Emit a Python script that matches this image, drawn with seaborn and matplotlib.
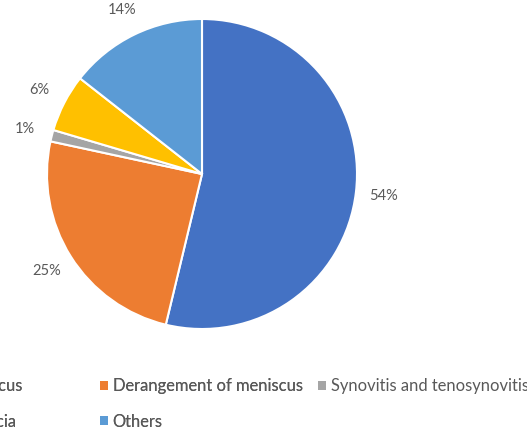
import matplotlib
matplotlib.use("Agg")
import matplotlib.pyplot as plt
from matplotlib.patches import Patch
import seaborn as sns

categories = ["Tear of meniscus", "Derangement of meniscus", "Synovitis and tenosynovitis",
              "Chondromalacia", "Others"]
values = [53.7, 24.6, 1.2, 6.0, 14.4]
colors = ["#4472C4", "#ED7D31", "#A5A5A5", "#FFC000", "#5B9BD5"]

sns.set_theme(style="white")
plt.rcParams["font.family"] = ["Lato", "DejaVu Sans"]

W, H = 527, 429
fig = plt.figure(figsize=(W / 100, H / 100), dpi=100)
cx, cy, r = 202, 174, 155
ax = fig.add_axes([(cx - r) / W, (H - cy - r) / H, 2 * r / W, 2 * r / H])

palette = sns.color_palette(colors)
wedges, texts, autotexts = ax.pie(
    values, colors=palette, startangle=90, counterclock=False,
    autopct="%.0f%%", pctdistance=1.18,
    wedgeprops=dict(edgecolor="white", linewidth=1.5),
    textprops=dict(color="#595959", fontsize=10.5),
)
for t in autotexts:
    t.set_clip_on(False)
ax.set_xlim(-1, 1)
ax.set_ylim(-1, 1)
ax.set_aspect("equal")
ax.axis("off")

fs = 11.9
common = dict(frameon=False, fontsize=fs, handlelength=0.5, handleheight=0.5,
              handletextpad=0.26, labelspacing=1.15, borderpad=0, borderaxespad=0,
              labelcolor="#595959")

def handles(idx):
    return [Patch(facecolor=colors[i], edgecolor="none") for i in idx]

ycen = 1 - 404 / H
leg1 = fig.legend(handles([0, 3]), [categories[i] for i in (0, 3)], loc="center right",
                  bbox_to_anchor=(22 / W, ycen), **common)
leg2 = fig.legend(handles([1, 4]), [categories[i] for i in (1, 4)], loc="center left",
                  bbox_to_anchor=(100 / W, ycen), **common)
fig.add_artist(leg1)
fig.add_artist(leg2)
blank = Patch(facecolor="none", edgecolor="none")
leg3 = fig.legend(handles([2]) + [blank], [categories[2], " "], loc="center left",
                  bbox_to_anchor=(318 / W, ycen), **common)

fig.savefig("out.png", dpi=100, facecolor="white")
